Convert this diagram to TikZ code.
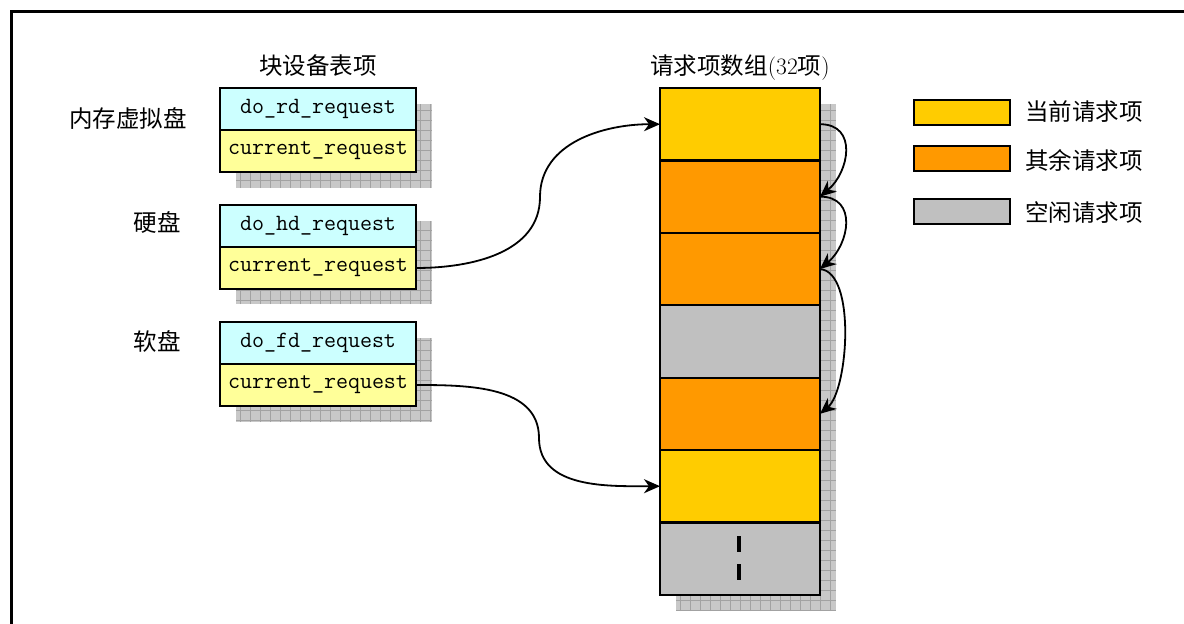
\documentclass[tikz,border=0pt]{standalone}
\usepackage{fontspec}
\newfontfamily\cjk{Noto Sans CJK SC}
\usetikzlibrary{arrows.meta,calc}
\definecolor{cyanfill}{HTML}{CCFFFF}
\definecolor{lightyellow}{HTML}{FFFF99}
\definecolor{goldfill}{HTML}{FFCC00}
\definecolor{orangefill}{HTML}{FF9900}
\definecolor{grayfill}{HTML}{C0C0C0}
\definecolor{shadowfill}{HTML}{C8C8C8}
\definecolor{shadowline}{HTML}{A2A2A2}
\tikzset{
 devbox/.style={draw, line width=2.5pt, minimum width=196pt, minimum height=42pt, inner sep=0pt, outer sep=0pt, font=\ttfamily\fontsize{23.3}{24}\selectfont},
 cell/.style={draw, line width=2.2pt, minimum width=160pt, minimum height=72.4pt, inner sep=0pt, outer sep=0pt, anchor=north west},
 legbox/.style={draw, line width=2.2pt, minimum width=96pt, minimum height=25pt, inner sep=0pt, outer sep=0pt, anchor=north west},
 cjklabel/.style={font=\cjk\fontsize{23.5}{26}\selectfont, inner sep=0pt},
 conn/.style={line width=1.8pt, -{Stealth[length=16pt,width=14pt,inset=5pt]}},
 frameline/.style={line width=3pt},
 dashmark/.style={line width=4pt},
}
\newcommand\gridshadow[4]{%
 \begin{scope}
 \clip (#1,#2) rectangle (#3,#4);
 \fill[shadowfill] (#1,#2) rectangle (#3,#4);
 \draw[shadowline, line width=0.8pt, step=10pt] (#1,#4) grid (#3,#2);
 \end{scope}}
\begin{document}
\begin{tikzpicture}[x=1pt,y=-1pt]
\useasboundingbox (0,0) rectangle (1184,624);
\fill[white] (0,0) rectangle (1184,624);
% frame
\draw[frameline] (11,626) -- (11,11) -- (1186,11);

% shadows
\gridshadow{236}{104}{432}{188}
\gridshadow{236}{221}{432}{304}
\gridshadow{236}{338}{432}{422}
\gridshadow{676}{104}{836}{611}

% titles
\node[cjklabel] (t1) at (318,66) {块设备表项};
\node[cjklabel] (t2) at (740,68) {请求项数组{\normalfont(32}项{\normalfont)}};

% device labels
\node[cjklabel] (lab1) at (128,118) {内存虚拟盘};
\node[cjklabel] (lab2) at (157,222) {硬盘};
\node[cjklabel] (lab3) at (157,341) {软盘};

% device boxes
\node[devbox, fill=cyanfill, anchor=north west] (rd) at (220,88) {do\_rd\_request};
\node[devbox, fill=lightyellow, anchor=north] (rdcur) at (rd.south) {current\_request};
\node[devbox, fill=cyanfill, anchor=north west] (hd) at (220,205) {do\_hd\_request};
\node[devbox, fill=lightyellow, anchor=north] (hdcur) at (hd.south) {current\_request};
\node[devbox, fill=cyanfill, anchor=north west] (fd) at (220,322) {do\_fd\_request};
\node[devbox, fill=lightyellow, anchor=north] (fdcur) at (fd.south) {current\_request};

% request array
\node[cell, fill=goldfill] (r1) at (660,88) {};
\node[cell, fill=orangefill] (r2) at (r1.south west) {};
\node[cell, fill=orangefill] (r3) at (r2.south west) {};
\node[cell, fill=grayfill] (r4) at (r3.south west) {};
\node[cell, fill=orangefill] (r5) at (r4.south west) {};
\node[cell, fill=goldfill] (r6) at (r5.south west) {};
\node[cell, fill=grayfill] (r7) at (r6.south west) {};
\draw[dashmark] (739,536) -- (739,552);
\draw[dashmark] (739,564) -- (739,580);

% legend
\node[legbox, fill=goldfill] (k1) at (914,100) {};
\node[legbox, fill=orangefill] (k2) at (914,146) {};
\node[legbox, fill=grayfill] (k3) at (914,199) {};
\node[cjklabel, anchor=west] (kt1) at (1025,112) {当前请求项};
\node[cjklabel, anchor=west] (kt2) at (1025,160) {其余请求项};
\node[cjklabel, anchor=west] (kt3) at (1025,213) {空闲请求项};

% connectors
\coordinate (m1) at (540,197);
\coordinate (m2) at (539,438);
\draw[conn] (hdcur.east) to[out=0,in=-90] (m1) to[out=90,in=180] (r1.west);
\draw[conn] (fdcur.east) to[out=0,in=90] (m2) to[out=-90,in=180] (r6.west);
\draw[conn] (r1.east) to[out=0,in=40,looseness=1.35] (r2.east);
\draw[conn] (r2.east) to[out=0,in=40,looseness=1.35] (r3.east);
\draw[conn] (r3.east) to[out=-5,in=40,looseness=0.65] (r5.east);
\end{tikzpicture}
\end{document}
